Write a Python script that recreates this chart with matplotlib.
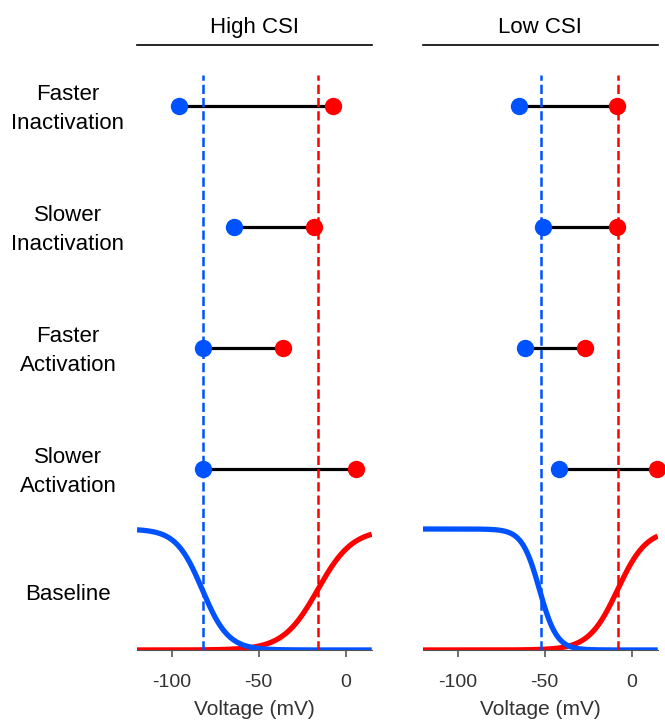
import numpy as np
import matplotlib.pyplot as plt

plt.rcParams['font.family'] = ['Liberation Sans', 'DejaVu Sans']
plt.rcParams['axes.unicode_minus'] = False

# row labels (top to bottom) and the baseline label
categories = ["Faster\nInactivation", "Slower\nInactivation",
              "Faster\nActivation", "Slower\nActivation"]
baseline_label = "Baseline"
panels = ["High CSI", "Low CSI"]

# half-voltages (mV): blue = inactivation, red = activation
high_blue = [-96, -64, -82, -82]
high_red = [-7, -18, -36, 6]
low_blue = [-64.5, -51, -61.5, -41.5]
low_red = [-8.5, -8.5, -27, 14.5]

# baseline half-voltages (dashed lines)
high_ref = (-82, -16)
low_ref = (-52, -8)

# baseline Boltzmann curves: (V1/2, slope k)
high_inact = (-82.5, 7.5)
high_act = (-16, 10)
low_inact = (-53, 5)
low_act = (-8, 8.3)

xticks = [-100, -50, 0]

BLUE = '#0052ff'
RED = '#ff0000'

fig = plt.figure(figsize=(6.65, 7.21), dpi=100)
ax1 = fig.add_axes([0.206, 0.0985, 0.353, 0.839])
ax2 = fig.add_axes([0.636, 0.0985, 0.353, 0.839])

v = np.linspace(-120, 15, 400)

data = [
    (ax1, panels[0], high_blue, high_red, high_ref, high_inact, high_act),
    (ax2, panels[1], low_blue, low_red, low_ref, low_inact, low_act),
]

n = len(categories)
for ax, title, blue, red, ref, inact, act in data:
    # baseline curves
    act_curve = 1 / (1 + np.exp(-(v - act[0]) / act[1]))
    inact_curve = 1 / (1 + np.exp((v - inact[0]) / inact[1]))
    ax.plot(v, act_curve, color=RED, lw=3.8, zorder=2, solid_capstyle='butt')
    ax.plot(v, inact_curve, color=BLUE, lw=3.8, zorder=2.1, solid_capstyle='butt')

    # dumbbells
    for i in range(n):
        y = n - i + 0.5
        ax.plot([blue[i], red[i]], [y, y], color='black', lw=2.3, zorder=3)
        ax.plot(blue[i], y, 'o', color=BLUE, ms=12.5, mec='none', zorder=5, clip_on=False)
        ax.plot(red[i], y, 'o', color=RED, ms=12.5, mec='none', zorder=5, clip_on=False)

    # reference dashed lines
    ax.vlines(ref[0], 0, n + 0.75, colors=BLUE, linestyles='--', lw=1.8, zorder=4)
    ax.vlines(ref[1], 0, n + 0.75, colors=RED, linestyles='--', lw=1.8, zorder=4)

    ax.set_xlim(-120, 15)
    ax.set_ylim(0, n + 1)
    ax.set_yticks([])
    ax.set_xticks(xticks)
    ax.tick_params(axis='x', length=5, width=1.2, color='#555555', pad=12,
                   labelsize=14, labelcolor='#333333')
    for s in ['left', 'right']:
        ax.spines[s].set_visible(False)
    ax.spines['bottom'].set_color('#555555')
    ax.spines['top'].set_linewidth(1.2)
    ax.set_title(title, fontsize=16, pad=9)
    ax.set_xlabel("Voltage (mV)", fontsize=15, color='#333333', labelpad=6.5)

# row labels on the left panel
for i, lab in enumerate(categories):
    ax1.text(-0.294, n - i + 0.47, lab, transform=ax1.get_yaxis_transform(),
             ha='center', va='center', fontsize=16, linespacing=1.5)
ax1.text(-0.294, 0.455, baseline_label, transform=ax1.get_yaxis_transform(),
         ha='center', va='center', fontsize=16)

fig.savefig('out.png', dpi=100)
